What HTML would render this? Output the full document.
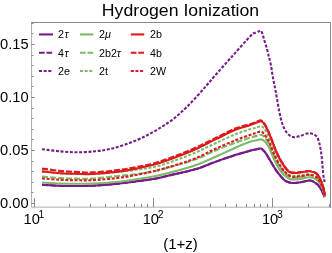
<!DOCTYPE html>
<html><head><meta charset="utf-8"><title>Hydrogen Ionization</title>
<style>html,body{margin:0;padding:0;background:#fff;overflow:hidden}body{width:332px;height:253px;position:relative;font-family:"Liberation Sans",sans-serif}</style></head>
<body>
<svg width="332" height="253" viewBox="0 0 332 253" style="position:absolute;left:0;top:0;will-change:transform;font-family:'Liberation Sans',sans-serif">
<rect width="332" height="253" fill="#fff"/>
<g fill="none" stroke-width="2.1" stroke-linejoin="round">
<path d="M42.00,184.70 C45.00,184.88 54.33,185.58 60.00,185.80 C65.67,186.02 70.67,186.02 76.00,186.00 C81.33,185.98 85.33,186.05 92.00,185.70 C98.67,185.35 108.67,184.60 116.00,183.88 C123.33,183.16 129.33,182.30 136.00,181.40 C142.67,180.50 149.33,179.76 156.00,178.51 C162.67,177.25 169.33,175.45 176.00,173.88 C182.67,172.30 189.33,171.10 196.00,169.06 C202.67,167.02 209.33,163.99 216.00,161.62 C222.67,159.26 230.33,156.66 236.00,154.84 C241.67,153.02 246.50,151.64 250.00,150.70 C253.50,149.76 255.17,149.57 257.00,149.20 C258.83,148.83 259.98,148.33 261.00,148.50 C262.02,148.67 262.30,149.37 263.12,150.20 C263.95,151.03 264.68,151.63 265.94,153.50 C267.20,155.37 269.11,158.77 270.70,161.40 C272.29,164.03 273.92,166.93 275.50,169.30 C277.08,171.67 278.87,173.95 280.20,175.60 C281.53,177.25 282.47,178.23 283.50,179.20 C284.53,180.17 285.27,180.83 286.38,181.40 C287.48,181.97 288.85,182.33 290.12,182.60 C291.40,182.87 292.02,183.10 294.00,183.00 C295.98,182.90 299.28,182.42 302.00,182.00 C304.72,181.58 307.77,180.12 310.30,180.50 C312.83,180.88 315.42,182.83 317.20,184.30 C318.98,185.77 319.95,187.58 321.00,189.30 C322.05,191.02 322.90,193.28 323.50,194.60 C324.10,195.92 324.42,196.77 324.60,197.20" stroke="#761c89"/>
<path d="M42.00,184.70 C45.00,184.88 54.33,185.58 60.00,185.80 C65.67,186.02 70.67,186.02 76.00,186.00 C81.33,185.98 85.33,186.05 92.00,185.70 C98.67,185.35 108.67,184.60 116.00,183.88 C123.33,183.16 129.33,182.30 136.00,181.40 C142.67,180.50 149.33,179.76 156.00,178.51 C162.67,177.25 169.33,175.45 176.00,173.88 C182.67,172.30 189.33,171.10 196.00,169.06 C202.67,167.02 209.33,163.99 216.00,161.62 C222.67,159.26 230.33,156.66 236.00,154.84 C241.67,153.02 246.50,151.64 250.00,150.70 C253.50,149.76 255.17,149.57 257.00,149.20 C258.83,148.83 259.98,148.33 261.00,148.50 C262.02,148.67 262.30,149.37 263.12,150.20 C263.95,151.03 264.68,151.63 265.94,153.50 C267.20,155.37 269.11,158.77 270.70,161.40 C272.29,164.03 273.92,166.93 275.50,169.30 C277.08,171.67 278.87,173.95 280.20,175.60 C281.53,177.25 282.47,178.23 283.50,179.20 C284.53,180.17 285.27,180.83 286.38,181.40 C287.48,181.97 288.85,182.33 290.12,182.60 C291.40,182.87 292.02,183.10 294.00,183.00 C295.98,182.90 299.28,182.42 302.00,182.00 C304.72,181.58 307.77,180.12 310.30,180.50 C312.83,180.88 315.42,182.83 317.20,184.30 C318.98,185.77 319.95,187.58 321.00,189.30 C322.05,191.02 322.90,193.28 323.50,194.60 C324.10,195.92 324.42,196.77 324.60,197.20" stroke="#761c89" stroke-dasharray="6.1 1.9"/>
<path d="M42.00,149.20 C45.00,149.55 54.00,150.78 60.00,151.30 C66.00,151.82 72.17,152.30 78.00,152.30 C83.83,152.30 89.67,151.85 95.00,151.30 C100.33,150.75 104.87,150.17 110.00,149.00 C115.13,147.83 120.53,146.13 125.80,144.30 C131.07,142.47 136.33,140.47 141.60,138.00 C146.87,135.53 152.12,132.67 157.40,129.50 C162.68,126.33 168.03,123.12 173.30,119.00 C178.57,114.88 183.73,110.07 189.00,104.80 C194.27,99.53 200.67,92.15 204.90,87.40 C209.13,82.65 209.88,81.45 214.40,76.30 C218.92,71.15 225.93,63.27 232.00,56.50 C238.07,49.73 246.80,39.68 250.80,35.70 C254.80,31.72 254.63,33.33 256.00,32.60 C257.37,31.87 258.18,31.62 259.00,31.30 C259.82,30.98 260.33,30.32 260.90,30.70 C261.47,31.08 261.90,32.25 262.40,33.60 C262.90,34.95 263.15,36.28 263.90,38.80 C264.65,41.32 266.08,45.73 266.90,48.70 C267.72,51.67 268.15,53.97 268.80,56.60 C269.45,59.23 270.20,61.53 270.80,64.50 C271.40,67.47 271.87,71.32 272.40,74.40 C272.93,77.48 273.43,80.07 274.00,83.00 C274.57,85.93 274.93,87.33 275.80,92.00 C276.67,96.67 278.10,105.67 279.20,111.00 C280.30,116.33 281.10,120.33 282.40,124.00 C283.70,127.67 285.18,130.82 287.00,133.00 C288.82,135.18 291.13,136.60 293.30,137.10 C295.47,137.60 297.25,136.63 300.00,136.00 C302.75,135.37 306.90,133.00 309.80,133.30 C312.70,133.60 315.50,134.52 317.40,137.80 C319.30,141.08 320.23,146.97 321.20,153.00 C322.17,159.03 322.62,169.17 323.20,174.00 C323.78,178.83 324.45,180.67 324.70,182.00" stroke="#761c89" stroke-dasharray="3.0 1.65"/>
<path d="M42.00,182.50 C45.00,182.67 54.33,183.28 60.00,183.50 C65.67,183.72 70.67,183.78 76.00,183.80 C81.33,183.82 85.33,183.90 92.00,183.60 C98.67,183.30 108.67,182.70 116.00,181.98 C123.33,181.26 129.33,180.30 136.00,179.30 C142.67,178.30 149.33,177.39 156.00,176.01 C162.67,174.62 169.33,172.83 176.00,171.00 C182.67,169.17 189.33,167.41 196.00,165.00 C202.67,162.59 209.33,159.49 216.00,156.57 C222.67,153.64 230.33,149.90 236.00,147.44 C241.67,144.98 246.50,143.01 250.00,141.80 C253.50,140.59 255.17,140.57 257.00,140.17 C258.83,139.77 259.81,139.25 261.00,139.40 C262.19,139.55 262.95,139.95 264.15,141.05 C265.35,142.15 267.02,144.09 268.20,146.00 C269.38,147.91 270.20,150.25 271.20,152.50 C272.20,154.75 273.12,157.17 274.20,159.50 C275.28,161.83 276.45,164.33 277.70,166.50 C278.95,168.67 280.39,170.87 281.70,172.50 C283.01,174.13 284.49,175.32 285.58,176.30 C286.68,177.28 287.31,177.88 288.26,178.40 C289.20,178.92 290.13,179.22 291.25,179.40 C292.38,179.58 293.21,179.63 295.00,179.50 C296.79,179.37 299.58,178.97 302.00,178.60 C304.42,178.23 307.10,177.15 309.50,177.30 C311.90,177.45 314.62,178.38 316.40,179.50 C318.18,180.62 319.07,182.17 320.20,184.00 C321.33,185.83 322.40,188.28 323.20,190.50 C324.00,192.72 324.70,196.17 325.00,197.30" stroke="#7cba6a"/>
<path d="M42.00,176.50 C45.00,176.75 54.33,177.65 60.00,178.00 C65.67,178.35 70.67,178.50 76.00,178.60 C81.33,178.70 85.33,179.00 92.00,178.60 C98.67,178.20 108.67,176.91 116.00,176.18 C123.33,175.45 129.33,175.11 136.00,174.20 C142.67,173.29 149.33,172.17 156.00,170.71 C162.67,169.24 169.33,167.33 176.00,165.40 C182.67,163.47 189.33,161.62 196.00,159.10 C202.67,156.57 209.33,153.03 216.00,150.25 C222.67,147.47 230.33,144.53 236.00,142.44 C241.67,140.36 246.50,138.87 250.00,137.75 C253.50,136.63 255.17,136.21 257.00,135.72 C258.83,135.23 259.82,134.63 261.00,134.80 C262.18,134.97 262.94,135.50 264.11,136.73 C265.28,137.95 266.90,140.34 268.00,142.16 C269.10,143.98 269.78,145.60 270.70,147.65 C271.62,149.70 272.45,152.08 273.50,154.44 C274.55,156.80 275.72,159.46 277.00,161.84 C278.28,164.21 279.87,166.83 281.20,168.71 C282.53,170.59 283.87,171.91 284.97,173.09 C286.07,174.28 286.78,175.06 287.82,175.79 C288.85,176.52 289.98,177.18 291.18,177.47 C292.38,177.77 293.20,177.72 295.00,177.58 C296.80,177.43 299.67,176.99 302.00,176.60 C304.33,176.21 306.63,175.12 309.00,175.23 C311.37,175.33 314.37,176.09 316.20,177.25 C318.03,178.40 318.87,180.18 320.00,182.15 C321.13,184.12 322.18,186.70 323.00,189.07 C323.82,191.45 324.58,195.20 324.90,196.43" stroke="#7cba6a" stroke-dasharray="6.1 1.9"/>
<path d="M42.00,171.40 C45.00,171.70 54.33,172.80 60.00,173.20 C65.67,173.60 70.67,173.67 76.00,173.80 C81.33,173.93 85.33,174.28 92.00,174.00 C98.67,173.72 108.67,172.83 116.00,172.13 C123.33,171.43 129.33,170.74 136.00,169.80 C142.67,168.86 149.33,168.12 156.00,166.51 C162.67,164.89 169.33,162.46 176.00,160.10 C182.67,157.74 189.33,155.20 196.00,152.35 C202.67,149.50 209.33,146.06 216.00,143.00 C222.67,139.94 230.33,136.28 236.00,134.00 C241.67,131.72 246.50,130.43 250.00,129.30 C253.50,128.18 255.17,127.77 257.00,127.25 C258.83,126.73 259.82,125.99 261.00,126.20 C262.18,126.41 262.94,127.03 264.11,128.50 C265.28,129.97 266.90,132.75 268.00,135.00 C269.10,137.25 269.78,139.67 270.70,142.00 C271.62,144.33 272.53,146.50 273.50,149.00 C274.47,151.50 275.33,154.25 276.50,157.00 C277.67,159.75 279.17,163.17 280.50,165.50 C281.83,167.83 283.27,169.53 284.50,171.00 C285.73,172.47 286.79,173.53 287.90,174.30 C289.01,175.07 290.00,175.35 291.18,175.60 C292.36,175.85 293.20,175.87 295.00,175.80 C296.80,175.73 299.57,175.47 302.00,175.20 C304.43,174.93 307.20,173.98 309.60,174.20 C312.00,174.42 314.63,175.28 316.40,176.50 C318.17,177.72 319.08,179.50 320.20,181.50 C321.32,183.50 322.32,186.02 323.10,188.50 C323.88,190.98 324.60,195.08 324.90,196.40" stroke="#7cba6a" stroke-dasharray="3.0 1.65"/>
<path d="M42.00,171.40 C45.00,171.70 54.33,172.80 60.00,173.20 C65.67,173.60 70.67,173.67 76.00,173.80 C81.33,173.93 85.33,174.32 92.00,174.00 C98.67,173.68 108.67,172.78 116.00,171.88 C123.33,170.98 129.33,169.90 136.00,168.60 C142.67,167.30 149.33,166.02 156.00,164.11 C162.67,162.19 169.33,159.63 176.00,157.10 C182.67,154.57 189.33,151.93 196.00,148.93 C202.67,145.93 209.33,142.32 216.00,139.10 C222.67,135.88 230.33,131.89 236.00,129.59 C241.67,127.29 246.50,126.47 250.00,125.30 C253.50,124.13 255.17,123.22 257.00,122.55 C258.83,121.88 259.75,120.99 261.00,121.30 C262.25,121.61 263.31,122.78 264.47,124.40 C265.64,126.02 266.96,128.82 268.00,131.00 C269.04,133.18 269.83,135.37 270.70,137.50 C271.57,139.63 272.40,141.72 273.20,143.80 C274.00,145.88 274.40,147.47 275.50,150.00 C276.60,152.53 278.45,156.45 279.80,159.00 C281.15,161.55 282.36,163.43 283.60,165.30 C284.84,167.17 286.05,169.00 287.22,170.20 C288.38,171.40 289.38,172.03 290.59,172.50 C291.81,172.97 292.60,173.05 294.50,173.00 C296.40,172.95 299.48,172.50 302.00,172.20 C304.52,171.90 307.17,170.95 309.60,171.20 C312.03,171.45 314.80,172.33 316.60,173.70 C318.40,175.07 319.30,177.18 320.40,179.40 C321.50,181.62 322.43,184.30 323.20,187.00 C323.97,189.70 324.70,194.17 325.00,195.60" stroke="#de1a1e"/>
<path d="M42.00,168.60 C45.00,168.98 54.33,170.33 60.00,170.88 C65.67,171.43 70.67,171.65 76.00,171.90 C81.33,172.15 85.33,172.62 92.00,172.37 C98.67,172.12 108.67,171.27 116.00,170.40 C123.33,169.53 129.33,168.44 136.00,167.15 C142.67,165.87 149.33,164.60 156.00,162.69 C162.67,160.78 169.33,158.23 176.00,155.71 C182.67,153.19 189.33,150.56 196.00,147.57 C202.67,144.58 209.33,140.99 216.00,137.77 C222.67,134.56 230.33,130.54 236.00,128.29 C241.67,126.03 246.50,125.34 250.00,124.22 C253.50,123.11 255.17,122.22 257.00,121.59 C258.83,120.95 259.75,120.05 261.00,120.40 C262.25,120.75 263.31,122.00 264.47,123.68 C265.64,125.36 266.96,128.25 268.00,130.47 C269.04,132.69 269.83,134.87 270.70,137.01 C271.57,139.16 272.40,141.24 273.20,143.33 C274.00,145.42 274.40,147.00 275.50,149.54 C276.60,152.08 278.45,156.01 279.80,158.57 C281.15,161.13 282.36,163.02 283.60,164.89 C284.84,166.77 286.05,168.61 287.22,169.82 C288.38,171.03 289.38,171.67 290.59,172.14 C291.81,172.62 292.60,172.70 294.50,172.67 C296.40,172.63 299.48,172.20 302.00,171.92 C304.52,171.65 307.17,170.73 309.60,171.01 C312.03,171.29 314.80,172.20 316.60,173.59 C318.40,174.98 319.30,177.11 320.40,179.34 C321.50,181.56 322.43,184.26 323.20,186.97 C323.97,189.68 324.70,194.15 325.00,195.59" stroke="#de1a1e" stroke-dasharray="6.1 1.9"/>
<path d="M42.00,178.40 C45.00,178.63 54.33,179.50 60.00,179.80 C65.67,180.10 70.67,180.13 76.00,180.20 C81.33,180.27 85.33,180.54 92.00,180.20 C98.67,179.86 108.67,179.05 116.00,178.18 C123.33,177.31 129.33,176.25 136.00,175.00 C142.67,173.75 149.33,172.39 156.00,170.71 C162.67,169.02 169.33,167.00 176.00,164.90 C182.67,162.80 189.33,160.82 196.00,158.10 C202.67,155.38 209.33,151.56 216.00,148.55 C222.67,145.54 230.33,142.32 236.00,140.04 C241.67,137.77 246.50,136.13 250.00,134.90 C253.50,133.67 255.17,133.20 257.00,132.65 C258.83,132.10 259.82,131.38 261.00,131.60 C262.18,131.82 262.94,132.60 264.11,134.00 C265.28,135.40 266.90,138.00 268.00,140.00 C269.10,142.00 269.78,143.83 270.70,146.00 C271.62,148.17 272.45,150.58 273.50,153.00 C274.55,155.42 275.72,158.08 277.00,160.50 C278.28,162.92 279.87,165.58 281.20,167.50 C282.53,169.42 283.87,170.78 284.97,172.00 C286.07,173.22 286.78,174.03 287.82,174.80 C288.85,175.57 289.98,176.27 291.18,176.60 C292.38,176.93 293.20,176.90 295.00,176.80 C296.80,176.70 299.67,176.33 302.00,176.00 C304.33,175.67 306.63,174.63 309.00,174.80 C311.37,174.97 314.37,175.80 316.20,177.00 C318.03,178.20 318.87,180.00 320.00,182.00 C321.13,184.00 322.18,186.60 323.00,189.00 C323.82,191.40 324.58,195.17 324.90,196.40" stroke="#de1a1e" stroke-dasharray="3.0 1.65"/>
</g>
<g stroke="#989898" stroke-width="0.8" fill="none">
<path d="M31.55,22.1V207.15H330.9"/>
<path d="M31.150000000000002,22.5H330.5V207.55" stroke="#7c7c7c" stroke-width="0.9"/>
<path d="M34.50,207.15v-9.2M69.50,207.15v-3.1M90.50,207.15v-3.1M105.50,207.15v-3.1M117.50,207.15v-3.1M126.50,207.15v-3.1M134.50,207.15v-3.1M141.50,207.15v-3.1M147.50,207.15v-3.1M153.50,207.15v-9.2M189.50,207.15v-3.1M210.50,207.15v-3.1M225.50,207.15v-3.1M236.50,207.15v-3.1M246.50,207.15v-3.1M254.50,207.15v-3.1M260.50,207.15v-3.1M267.50,207.15v-3.1M272.50,207.15v-9.2M308.50,207.15v-3.1M329.50,207.15v-3.1M31.55,203.50h3.2M31.55,192.50h2M31.55,182.50h2M31.55,171.50h2M31.55,161.50h2M31.55,150.50h3.2M31.55,139.50h2M31.55,129.50h2M31.55,118.50h2M31.55,108.50h2M31.55,97.50h3.2M31.55,86.50h2M31.55,76.50h2M31.55,65.50h2M31.55,55.50h2M31.55,44.50h3.2M31.55,33.50h2M31.55,23.50h2" stroke="#7e7e7e" stroke-width="0.9"/>
</g>
<g fill="#000">
<text transform="translate(180.50,15.80) scale(1.053,1)" font-size="16.8" text-anchor="middle">Hydrogen Ionization</text>
<text transform="translate(28.70,208.10) scale(1.05,1)" font-size="14" text-anchor="end">0.00</text>
<text transform="translate(28.70,155.10) scale(1.05,1)" font-size="14" text-anchor="end">0.05</text>
<text transform="translate(28.70,102.10) scale(1.05,1)" font-size="14" text-anchor="end">0.10</text>
<text transform="translate(28.70,49.10) scale(1.05,1)" font-size="14" text-anchor="end">0.15</text>
<text transform="translate(23.50,223.70) scale(1.05,1)" font-size="14" text-anchor="start">10<tspan dx="-1.3" dy="-5.8" font-size="10">1</tspan></text>
<text transform="translate(142.70,223.70) scale(1.05,1)" font-size="14" text-anchor="start">10<tspan dx="-1.3" dy="-5.8" font-size="10">2</tspan></text>
<text transform="translate(261.90,223.70) scale(1.05,1)" font-size="14" text-anchor="start">10<tspan dx="-1.3" dy="-5.8" font-size="10">3</tspan></text>
<text transform="translate(180.50,248.80) scale(1.07,1)" font-size="14" text-anchor="middle">(1+z)</text>
<path d="M39,34.45H53" stroke="#761c89" stroke-width="2.1" fill="none"/>
<text transform="translate(58.00,38.15) scale(1.05,1)" font-size="10.2" text-anchor="start">2<tspan dx="0.5" font-style="italic">τ</tspan></text>
<path d="M39,52.8H53" stroke="#761c89" stroke-width="2.1" fill="none" stroke-dasharray="5.7 1.8"/>
<text transform="translate(58.00,56.50) scale(1.05,1)" font-size="10.2" text-anchor="start">4<tspan dx="0.5" font-style="italic">τ</tspan></text>
<path d="M39,71.0H53" stroke="#761c89" stroke-width="2.1" fill="none" stroke-dasharray="3.0 1.65"/>
<text transform="translate(58.00,74.70) scale(1.05,1)" font-size="10.2" text-anchor="start">2e</text>
<path d="M80,34.45H93.3" stroke="#7cba6a" stroke-width="2.1" fill="none"/>
<text transform="translate(99.00,38.15) scale(1.05,1)" font-size="10.2" text-anchor="start">2<tspan font-style="italic">μ</tspan></text>
<path d="M80,52.8H93.3" stroke="#7cba6a" stroke-width="2.1" fill="none" stroke-dasharray="5.7 1.8"/>
<text transform="translate(99.00,56.50) scale(1.05,1)" font-size="10.2" text-anchor="start">2b2<tspan font-style="italic">τ</tspan></text>
<path d="M80,71.0H93.3" stroke="#7cba6a" stroke-width="2.1" fill="none" stroke-dasharray="3.0 1.65"/>
<text transform="translate(99.00,74.70) scale(1.05,1)" font-size="10.2" text-anchor="start">2t</text>
<path d="M130.8,34.45H144.3" stroke="#de1a1e" stroke-width="2.1" fill="none"/>
<text transform="translate(150.10,38.15) scale(1.05,1)" font-size="10.2" text-anchor="start">2b</text>
<path d="M130.8,52.8H144.3" stroke="#de1a1e" stroke-width="2.1" fill="none" stroke-dasharray="5.7 1.8"/>
<text transform="translate(150.10,56.50) scale(1.05,1)" font-size="10.2" text-anchor="start">4b</text>
<path d="M130.8,71.0H144.3" stroke="#de1a1e" stroke-width="2.1" fill="none" stroke-dasharray="3.0 1.65"/>
<text transform="translate(150.10,74.70) scale(1.05,1)" font-size="10.2" text-anchor="start">2W</text>
</g>
</svg>
</body></html>
